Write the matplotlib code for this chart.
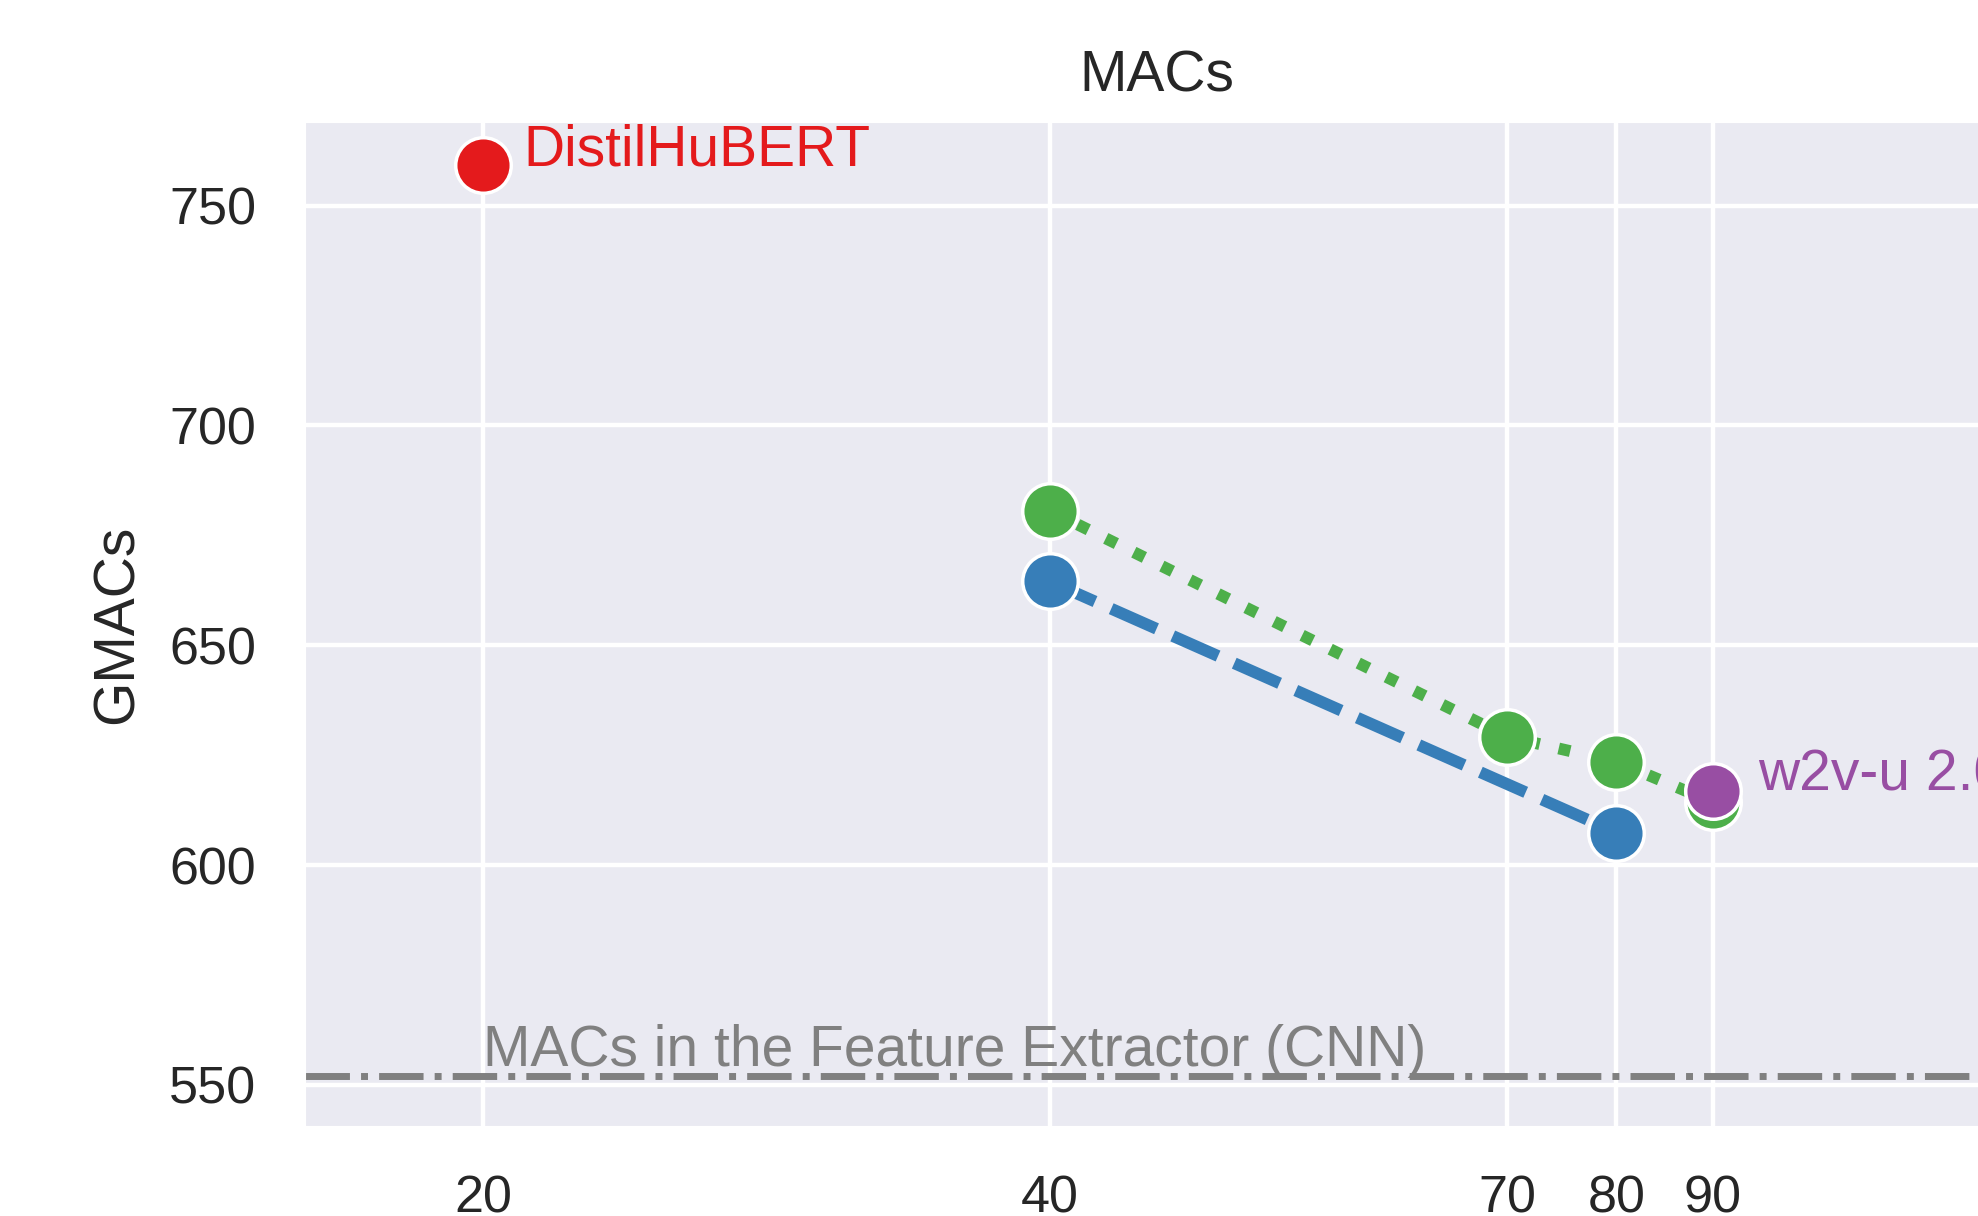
import matplotlib
matplotlib.use("Agg")
import matplotlib.pyplot as plt
import matplotlib.ticker as mticker
import seaborn as sns

# data
blue_x = [40, 80]
blue_y = [664.5, 607.4]
green_x = [40, 70, 80, 90]
green_y = [680.6, 629.2, 623.5, 614.3]
distil_x = [20]
distil_y = [759.2]
w2v_x = [90]
w2v_y = [616.9]
cnn_macs = 552.0
x_ticks = [20, 40, 70, 80, 90]
y_ticks = [550, 600, 650, 700, 750]

RED = "#e41a1c"
BLUE = "#377eb8"
GREEN = "#4daf4a"
PURPLE = "#984ea3"

sns.set_style("darkgrid")
plt.rcParams["font.family"] = ["Liberation Sans", "DejaVu Sans"]
plt.rcParams["grid.linewidth"] = 3.2

fig = plt.figure(figsize=(19.78, 12.16), dpi=100)
ax = fig.add_axes([0.1542, 0.074, 0.8615, 0.8257])

mk = dict(marker="o", markersize=40, markeredgecolor="white", markeredgewidth=2.5)

ax.axhline(cnn_macs, color="gray", linestyle="-.", linewidth=5, zorder=2)
ax.text(20, cnn_macs + 2.3, "MACs in the Feature Extractor (CNN)", color="gray",
        fontsize=41, va="baseline", ha="left")

ax.plot(blue_x, blue_y, color=BLUE, linewidth=8.5, dashes=(4.2, 1.5), zorder=3, **mk)
ax.plot(green_x, green_y, color=GREEN, linewidth=8.5, linestyle=":", zorder=3, **mk)
ax.plot(distil_x, distil_y, color=RED, linestyle="none", zorder=4, **mk)
ax.plot(w2v_x, w2v_y, color=PURPLE, linestyle="none", zorder=4, **mk)

ax.annotate("DistilHuBERT", (distil_x[0], distil_y[0]), xytext=(40, 0),
            textcoords="offset pixels", color=RED, fontsize=41, va="baseline")
ax.annotate("w2v-u 2.0", (w2v_x[0], w2v_y[0]), xytext=(45, 0),
            textcoords="offset pixels", color=PURPLE, fontsize=41, va="baseline")

ax.set_xscale("log")
ax.set_xlim(16.09, 129.3)
ax.set_ylim(540.65, 769.0)
ax.xaxis.set_major_locator(mticker.FixedLocator(x_ticks))
ax.xaxis.set_major_formatter(mticker.FixedFormatter([str(t) for t in x_ticks]))
ax.xaxis.set_minor_locator(mticker.NullLocator())
ax.set_yticks(y_ticks)
ax.tick_params(axis="both", labelsize=37.5, pad=35, length=0, colors="#262626")

ax.set_title("MACs", fontsize=41, pad=22, color="#262626")
ax.set_ylabel("GMACs", fontsize=41, labelpad=18, color="#262626")

fig.savefig("out.png", dpi=100)
